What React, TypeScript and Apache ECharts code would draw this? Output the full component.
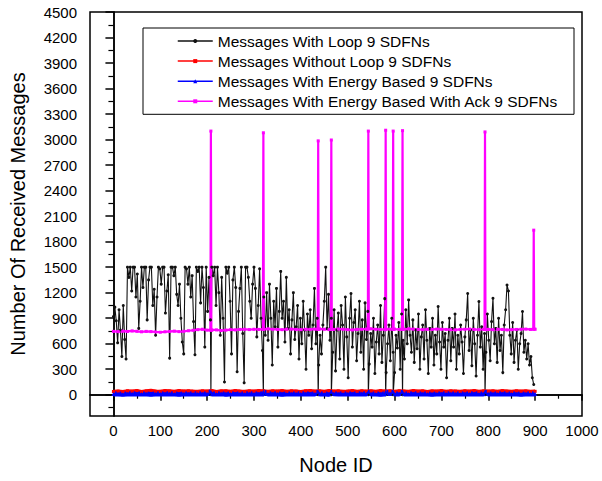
import { useEffect, useRef } from 'react';
import * as echarts from 'echarts';

// ---- axes ----
const xMin = -50;
const xMax = 1000;
const yMin = -250;
const yMax = 4500;
const xMajorTicks = [0, 100, 200, 300, 400, 500, 600, 700, 800, 900, 1000];
const xMinorTicks = [50, 150, 250, 350, 450, 550, 650, 750, 850, 950];
const yMajorTicks = [0, 300, 600, 900, 1200, 1500, 1800, 2100, 2400, 2700, 3000, 3300, 3600, 3900, 4200, 4500];
const yMinorTicks = [-150, 150, 450, 750, 1050, 1350, 1650, 1950, 2250, 2550, 2850, 3150, 3450, 3750, 4050, 4350];

const seriesNames = [
  'Messages With Loop 9 SDFNs',
  'Messages Without Loop 9 SDFNs',
  'Messages With Energy Based 9 SDFNs',
  'Messages With Energy Based With Ack 9 SDFNs',
];

// SDFN node ids (where the Ack series spikes)
const sdfnNodes = [208, 320, 437, 465, 544, 581, 597, 617, 793];

// ---- Messages With Loop (sampled every 3 nodes from node 0) ----
const loopStep = 3;
const loopValues = [
  920, 1030, 870, 610, 1000, 760, 450, 1050, 650, 420,
  1500, 1380, 1500, 1220, 1500, 1500, 1150, 1420, 780, 1100,
  1500, 1260, 1500, 1500, 880, 1350, 1500, 1500, 1050, 1240,
  700, 1150, 1500, 1480, 1300, 1500, 1500, 960, 1220, 1410,
  430, 1500, 1500, 1400, 1500, 1180, 1050, 1300, 900, 620,
  480, 1500, 1480, 1300, 1500, 1150, 1400, 860, 470, 1500,
  1450, 1500, 1080, 1500, 1260, 560, 1500, 980, 1380, 880,
  1500, 1400, 1500, 1050, 1500, 1200, 700, 1380, 900, 150,
  1500, 1430, 1500, 1100, 480, 1350, 1500, 1260, 270, 980,
  1250, 1500, 720, 140, 1500, 1500, 1380, 1100, 900, 1300,
  1500, 1250, 680, 1050, 1480, 900, 520, 1150, 700, 1200,
  640, 1300, 900, 350, 1100, 800, 1250, 560, 980, 1450,
  900, 1100, 620, 1380, 780, 1000, 480, 880, 1200, 650,
  800, 1050, 420, 900, 600, 1100, 760, 300, 950, 700,
  1000, 540, 820, 1250, 600, 900, 350, 700, 480, 820,
  1100, 1500, 780, 1180, 640, 900, 500, 1000, 280, 760,
  960, 420, 1050, 820, 300, 1150, 680, 200, 900, 1190,
  560, 850, 1000, 400, 720, 1100, 500, 880, 300, 1080,
  650, 980, 360, 720, 560, 900, 250, 620, 820, 480,
  1050, 380, 700, 1130, 260, 600, 820, 400, 900, 500,
  260, 700, 550, 850, 300, 950, 640, 420, 1000, 600,
  1115, 700, 500, 880, 380, 760, 540, 950, 300, 680,
  820, 420, 1000, 640, 250, 780, 560, 900, 350, 700,
  480, 1037, 620, 300, 850, 560, 720, 200, 640, 900,
  400, 780, 560, 950, 300, 700, 480, 820, 620, 250,
  680, 880, 1190, 520, 760, 340, 900, 600, 220, 700,
  1096, 560, 800, 300, 720, 500, 950, 640, 400, 860,
  1135, 600, 780, 380, 900, 520, 700, 260, 820, 1000,
  1291, 1220, 700, 480, 850, 380, 640, 760, 300, 600,
  720, 978, 500, 640, 420, 600, 350, 450, 200, 120,
];
const loopSdfnValues = [0, 0, 0, 0, 0, 0, 0, 0, 0];

// ---- Messages Without Loop (every 10 nodes) ----
const otherStep = 10;
const withoutLoopValues = [
  38, 42, 35, 45, 40, 48, 36, 44, 50, 41,
  39, 46, 43, 37, 48, 42, 45, 40, 38, 44,
  41, 47, 36, 43, 45, 39, 48, 42, 37, 44,
  40, 46, 43, 38, 45, 41, 47, 39, 44, 42,
  36, 45, 48, 40, 43, 38, 46, 41, 44, 39,
  42, 47, 38, 45, 40, 43, 37, 46, 41, 44,
  39, 45, 42, 38, 47, 40, 44, 36, 43, 41,
  46, 39, 44, 42, 38, 45, 40, 47, 37, 43,
  41, 44, 39, 46, 42, 38, 45, 40, 43, 37,
  40,
];

// ---- Messages With Energy Based (every 10 nodes) ----
const energyValues = [
  8, 10, 7, 9, 11, 8, 10, 9, 7, 10,
  9, 8, 11, 10, 7, 9, 10, 8, 11, 9,
  10, 8, 9, 11, 7, 10, 9, 8, 10, 11,
  9, 10, 8, 9, 11, 10, 7, 9, 10, 8,
  11, 9, 10, 8, 9, 10, 7, 11, 9, 10,
  8, 9, 10, 11, 8, 9, 10, 7, 9, 11,
  10, 8, 9, 10, 11, 8, 9, 10, 7, 9,
  10, 11, 8, 9, 10, 9, 8, 11, 10, 9,
  8, 10, 9, 11, 8, 10, 9, 7, 10, 9,
  10,
];
const energySdfnValues = [35, 35, 35, 35, 35, 35, 35, 35, 35];

// ---- Messages With Energy Based With Ack (every 10 nodes) ----
const ackValues = [
  745, 742, 748, 744, 750, 746, 740, 745, 742, 738,
  735, 740, 744, 748, 742, 746, 752, 758, 765, 770,
  760, 758, 762, 755, 760, 765, 762, 768, 770, 766,
  770, 768, 772, 775, 770, 768, 765, 770, 772, 768,
  765, 770, 768, 772, 775, 770, 766, 768, 772, 770,
  765, 762, 768, 770, 772, 775, 770, 768, 765, 770,
  772, 768, 770, 775, 772, 768, 765, 770, 768, 772,
  770, 768, 765, 762, 768, 770, 772, 768, 765, 770,
  768, 765, 770, 768, 762, 765, 768, 770, 772, 768,
  770,
];
const ackPeakValues = [3100, 3080, 2985, 2995, 3100, 3110, 3100, 3105, 3090];
const ackPeakLeft = [760, 768, 770, 768, 772, 768, 770, 768, 768];
const ackPeakRight = [762, 770, 768, 770, 775, 770, 768, 772, 765];
const ackEndNodes = [896, 897, 898];
const ackEndValues = [770, 1935, 772];

function fromStep(values: number[], step: number): number[][] {
  return values.map((v, i) => [i * step, v]);
}
function merge(...lists: number[][][]): number[][] {
  const all: number[][] = [];
  lists.forEach((l) => l.forEach((p) => all.push(p)));
  return all.sort((a, b) => a[0] - b[0]);
}

const loopData = merge(fromStep(loopValues, loopStep), sdfnNodes.map((n, i) => [n, loopSdfnValues[i]]));
const withoutLoopData = fromStep(withoutLoopValues, otherStep);
const energyData = merge(fromStep(energyValues, otherStep), sdfnNodes.map((n, i) => [n, energySdfnValues[i]]));
const ackData = merge(
  fromStep(ackValues, otherStep),
  sdfnNodes.map((n, i) => [n - 1, ackPeakLeft[i]]),
  sdfnNodes.map((n, i) => [n, ackPeakValues[i]]),
  sdfnNodes.map((n, i) => [n + 1, ackPeakRight[i]]),
  ackEndNodes.map((n, i) => [n, ackEndValues[i]]),
);

const FONT = "'Liberation Sans', Arial, sans-serif";
const plain = (v: number) => String(v);

export default function App() {
  const ref = useRef<HTMLDivElement>(null);
  useEffect(() => {
    if (!ref.current) return;
    const chart = echarts.init(ref.current, null, { renderer: 'svg' });
    const axisLine = { show: true, lineStyle: { color: '#000', width: 1.5 } };
    chart.setOption({
      animation: false,
      backgroundColor: '#fff',
      textStyle: { fontFamily: FONT },
      grid: {
        left: 86, right: 20, top: 12, bottom: 65,
        show: true, borderColor: '#000', borderWidth: 1.5, backgroundColor: 'transparent',
      },
      legend: {
        orient: 'vertical',
        left: 143, top: 28,
        padding: [5, 16, 5, 34],
        itemWidth: 35, itemHeight: 5, itemGap: 4.1,
        borderColor: '#000', borderWidth: 1, borderRadius: 0,
        backgroundColor: '#fff',
        lineStyle: { width: 1.5 },
        textStyle: { fontFamily: FONT, fontSize: 15.5, color: '#000', lineHeight: 15.5 },
        data: seriesNames,
      },
      xAxis: [
        {
          type: 'value', min: xMin, max: xMax, position: 'bottom',
          name: 'Node ID', nameLocation: 'middle', nameGap: 39,
          nameTextStyle: { fontFamily: FONT, fontSize: 20, color: '#000' },
          axisLine,
          axisTick: { show: true, inside: false, length: 6, customValues: xMajorTicks, lineStyle: { color: '#000', width: 1.5 } },
          axisLabel: { customValues: xMajorTicks, formatter: plain, fontFamily: FONT, fontSize: 15, color: '#000', margin: 7 },
          splitLine: { show: false },
        },
        {
          type: 'value', min: xMin, max: xMax, position: 'bottom',
          axisLine,
          axisTick: { show: true, inside: false, length: 4, customValues: xMinorTicks, lineStyle: { color: '#000', width: 1.2 } },
          axisLabel: { show: false },
          splitLine: { show: false },
        },
      ],
      yAxis: [
        {
          type: 'value', min: yMin, max: yMax, position: 'left',
          name: 'Number Of Received Messages', nameLocation: 'middle', nameGap: 62,
          nameTextStyle: { fontFamily: FONT, fontSize: 20, color: '#000' },
          axisLine,
          axisTick: { show: true, inside: false, length: 8, customValues: yMajorTicks, lineStyle: { color: '#000', width: 1.5 } },
          axisLabel: { customValues: yMajorTicks, formatter: plain, fontFamily: FONT, fontSize: 15, color: '#000', margin: 13 },
          splitLine: { show: false },
        },
        {
          type: 'value', min: yMin, max: yMax, position: 'left',
          axisLine,
          axisTick: { show: true, inside: false, length: 5, customValues: yMinorTicks, lineStyle: { color: '#000', width: 1.2 } },
          axisLabel: { show: false },
          splitLine: { show: false },
        },
      ],
      series: [
        {
          name: seriesNames[0], type: 'line', data: loopData, xAxisIndex: 0, yAxisIndex: 0,
          symbol: 'circle', symbolSize: 3, showAllSymbol: true,
          lineStyle: { color: '#111', width: 1.1 }, itemStyle: { color: '#111' },
        },
        {
          name: seriesNames[1], type: 'line', data: withoutLoopData, xAxisIndex: 0, yAxisIndex: 0,
          symbol: 'rect', symbolSize: 3, showAllSymbol: true,
          lineStyle: { color: '#ff0000', width: 3.5 }, itemStyle: { color: '#ff0000' },
        },
        {
          name: seriesNames[2], type: 'line', data: energyData, xAxisIndex: 0, yAxisIndex: 0,
          symbol: 'triangle', symbolSize: 4, showAllSymbol: true,
          lineStyle: { color: '#0000ff', width: 5 }, itemStyle: { color: '#0000ff' },
        },
        {
          name: seriesNames[3], type: 'line', data: ackData, xAxisIndex: 0, yAxisIndex: 0,
          symbol: 'rect', symbolSize: 3, showAllSymbol: true,
          lineStyle: { color: '#ff00ff', width: 2.2 }, itemStyle: { color: '#ff00ff' },
        },
      ],
    });
    return () => chart.dispose();
  }, []);
  return <div ref={ref} style={{ width: 602, height: 481, position: 'absolute', left: 0, top: 0 }} />;
}
